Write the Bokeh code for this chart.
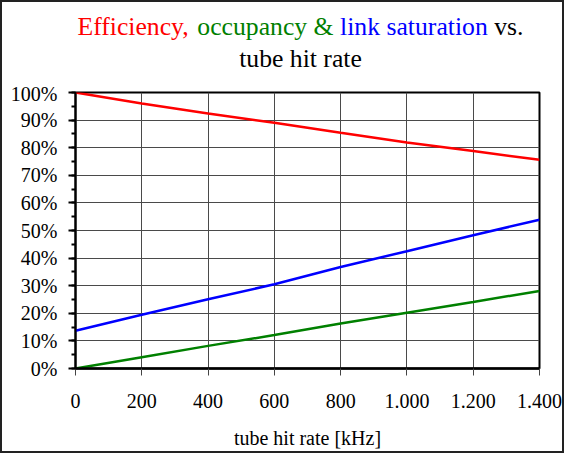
from bokeh.plotting import figure
from bokeh.models import Range1d, FixedTicker, ColumnDataSource
from bokeh.layouts import column
from bokeh.embed import file_html
from bokeh.resources import INLINE

# ---- data ----
rate_khz = [0, 200, 400, 600, 800, 1000, 1200, 1400]
efficiency = [1.000, 0.960, 0.924, 0.890, 0.854, 0.819, 0.788, 0.756]
occupancy = [0.000, 0.041, 0.082, 0.121, 0.163, 0.202, 0.241, 0.281]
link_saturation = [0.137, 0.195, 0.251, 0.305, 0.368, 0.425, 0.483, 0.539]

x_ticks = [0, 200, 400, 600, 800, 1000, 1200, 1400]
x_tick_labels = ["0", "200", "400", "600", "800", "1.000", "1.200", "1.400"]
y_ticks = [i / 10 for i in range(11)]
y_tick_labels = [f"{i * 10}%" for i in range(11)]
y_minor = [i / 20 for i in range(21)]

title_parts = [("Efficiency, ", "#ff0000"), ("occupancy & ", "#008000"),
               ("link saturation ", "#0000ff"), ("vs.", "#000000")]
title_line2 = "tube hit rate"
x_label = "tube hit rate [kHz]"

FONT = "Liberation Serif"
W = 560
TH = 80                      # title strip height
H = 369                      # chart height
ML, MR, MT, MB = 73, 23, 10, 81

# ---- title strip (data units = canvas pixels) ----
ADV = {"E": 611, "f": 333, "i": 278, "c": 444, "e": 444, "n": 500, "y": 500, ",": 250,
       " ": 250, "o": 500, "u": 500, "p": 500, "a": 444, "&": 778, "l": 278, "k": 500,
       "s": 389, "t": 278, "r": 333, "v": 500, ".": 250, "b": 500, "h": 500}
TS = 25.7
def width(s):
    return sum(ADV.get(ch, 500) for ch in s) * TS / 1000

center_x = 298
total = sum(width(s) for s, _ in title_parts)
xs, ys, txt, cols = [], [], [], []
x0 = center_x - total / 2
for s, c in title_parts:
    xs.append(x0); ys.append(56.4); txt.append(s); cols.append(c)
    x0 += width(s)

tf = figure(width=W, height=TH, output_backend="svg", toolbar_location=None,
            x_range=Range1d(ML, W - MR), y_range=Range1d(0, TH),
            min_border_left=ML, min_border_right=MR, min_border_top=0, min_border_bottom=0)
tf.axis.visible = False
tf.grid.visible = False
tf.outline_line_color = None
tsrc = ColumnDataSource(dict(x=xs, y=ys, text=txt, color=cols))
tf.text(x="x", y="y", text="text", text_color="color", source=tsrc, text_align="left",
        text_baseline="middle", text_font={"value": FONT}, text_font_size=f"{TS}px")
tf.text(x=[center_x], y=[24.4], text=[title_line2], text_color="#000000", text_align="center",
        text_baseline="middle", text_font={"value": FONT}, text_font_size=f"{TS}px")

# ---- chart ----
p = figure(width=W, height=H, output_backend="svg", toolbar_location=None,
           x_range=Range1d(0, 1400), y_range=Range1d(0, 1),
           min_border_left=ML, min_border_right=MR, min_border_top=MT, min_border_bottom=MB)

p.line(rate_khz, efficiency, line_color="#ff0000", line_width=2.5)
p.line(rate_khz, link_saturation, line_color="#0000ff", line_width=2.5)
p.line(rate_khz, occupancy, line_color="#008000", line_width=2.5)

p.outline_line_color = "black"
p.outline_line_width = 2
p.xgrid.grid_line_color = "#4a4a4a"
p.ygrid.grid_line_color = "#4a4a4a"
p.xgrid.ticker = FixedTicker(ticks=x_ticks)
p.ygrid.ticker = FixedTicker(ticks=y_ticks)

xa = p.xaxis[0]
xa.ticker = FixedTicker(ticks=x_ticks)
xa.major_label_overrides = {t: l for t, l in zip(x_ticks, x_tick_labels)}
xa.major_tick_out = 7
xa.major_tick_in = 0
xa.minor_tick_out = 0
xa.axis_line_width = 2.5
xa.axis_line_color = "black"
xa.major_tick_line_color = "#444444"
xa.major_label_text_font = FONT
xa.major_label_text_font_size = "20px"
xa.major_label_text_color = "black"
xa.major_label_standoff = 18
xa.axis_label = x_label
xa.axis_label_text_font = FONT
xa.axis_label_text_font_size = "20px"
xa.axis_label_text_font_style = "normal"
xa.axis_label_text_color = "black"
xa.axis_label_standoff = 16

ya = p.yaxis[0]
ya.ticker = FixedTicker(ticks=y_ticks, minor_ticks=y_minor)
ya.major_label_overrides = {t: l for t, l in zip(y_ticks, y_tick_labels)}
ya.major_tick_out = 7
ya.major_tick_in = 0
ya.minor_tick_out = 4
ya.minor_tick_in = 0
ya.axis_line_width = 2
ya.axis_line_color = "black"
ya.major_tick_line_color = "black"
ya.major_tick_line_width = 2
ya.minor_tick_line_color = "black"
ya.minor_tick_line_width = 2
ya.major_label_text_font = FONT
ya.major_label_text_font_size = "20px"
ya.major_label_text_color = "black"
ya.major_label_standoff = 11

layout = column(tf, p, spacing=0, styles={"border": "2px solid #222222"})
open("out.html", "w").write(file_html(layout, INLINE))
